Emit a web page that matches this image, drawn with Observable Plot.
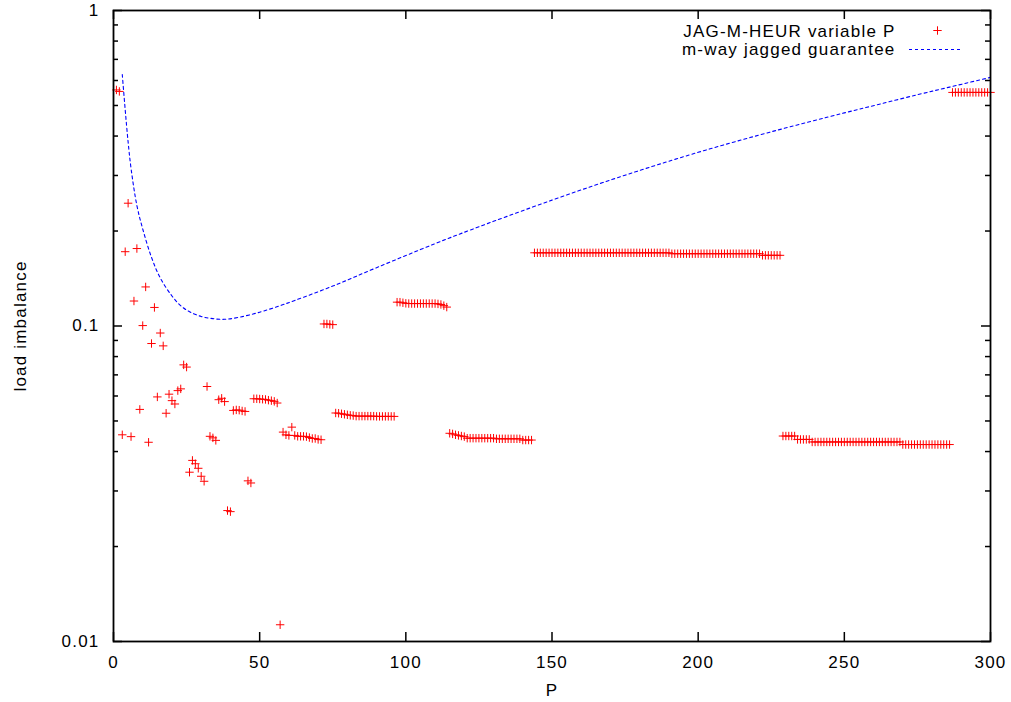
<!DOCTYPE html>
<html><head><meta charset="utf-8">
<script src="https://cdn.jsdelivr.net/npm/d3@7"></script>
<script src="https://cdn.jsdelivr.net/npm/@observablehq/plot@0.6"></script>
<style>
html,body{margin:0;padding:0;background:#fff;}
#chart svg{display:block;}
</style></head><body><div id="chart"></div>
<script>
// ---- tick labels ----
const xTicks = [0, 50, 100, 150, 200, 250, 300];
const yTicks = [0.01, 0.1, 1];
const yMinorTicks = [0.02,0.03,0.04,0.05,0.06,0.07,0.08,0.09,0.2,0.3,0.4,0.5,0.6,0.7,0.8,0.9];

// ---- series names ----
const seriesNames = ["JAG-M-HEUR variable P", "m-way jagged guarantee"];
const xTitle = "P";
const yTitle = "load imbalance";

// ---- JAG-M-HEUR variable P: values for P = 1..40 ----
const heurFirstValues = [0.560, 0.554, 0.0452, 0.172, 0.245, 0.0446, 0.120, 0.176, 0.0544, 0.1003,
  0.133, 0.0428, 0.088, 0.1145, 0.0596, 0.095, 0.0865, 0.0529, 0.0608, 0.058,
  0.0566, 0.0624, 0.0632, 0.0753, 0.0741, 0.0344, 0.0375, 0.0366, 0.0354, 0.0334,
  0.0322, 0.0643, 0.0447, 0.0442, 0.0434, 0.0584, 0.059, 0.0576, 0.026, 0.0258];

// ---- JAG-M-HEUR variable P: runs [first P, last P, value] for P = 41..300 ----
const heurRuns = [
  [41,41,0.0540],[42,42,0.0542],[43,43,0.0541],[44,44,0.0538],[45,45,0.0536],
  [46,46,0.0323],[47,47,0.0318],
  [48,49,0.0588],[50,50,0.0587],[51,51,0.0586],[52,52,0.0585],[53,53,0.0582],[54,54,0.058],[55,55,0.0577],[56,56,0.057],
  [57,57,0.0113],
  [58,58,0.0461],[59,59,0.0452],[60,60,0.045],[61,61,0.0478],[62,62,0.045],[63,65,0.0447],[66,66,0.0446],[67,67,0.0443],[68,69,0.044],[70,70,0.0437],[71,71,0.0436],
  [72,73,0.1015],[74,74,0.1012],[75,75,0.101],
  [76,76,0.053],[77,77,0.0529],[78,78,0.0527],[79,79,0.0525],[80,80,0.0523],[81,81,0.0521],[82,82,0.052],[83,89,0.0518],[90,96,0.0517],
  [97,98,0.119],[99,99,0.1185],[100,100,0.118],[101,110,0.1178],[111,111,0.1175],[112,112,0.117],[113,113,0.116],[114,114,0.1148],
  [115,115,0.0457],[116,116,0.0455],[117,117,0.0452],[118,118,0.045],[119,119,0.0448],[120,120,0.0446],[121,130,0.0441],[131,139,0.0439],[140,143,0.0435],
  [144,190,0.1706],[191,221,0.1695],[222,228,0.1675],
  [229,233,0.0448],[234,238,0.0437],[239,269,0.0429],[270,286,0.0421],
  [287,300,0.55]
];

// ---- m-way jagged guarantee ----
const guaranteeP = [3,4,5,6,8,10,13,16,20,23,26,30,34,38,43,50,57,62,75,90,110,122,150,175,200,225,250,262,275,286,300];
const guaranteeValue = [0.627,0.485,0.383,0.316,0.241,0.203,0.165,0.142,0.1245,0.116,0.111,0.1072,0.1055,0.105,0.1066,0.1106,0.116,0.1205,0.1338,0.1531,0.1824,0.2014,0.2506,0.3006,0.3552,0.4126,0.4736,0.5047,0.5408,0.5717,0.6138];

// ---- build tables ----
const heur = heurFirstValues.map((v, i) => ({P: i + 1, value: v}));
for (const [a, b, v] of heurRuns) for (let p = a; p <= b; ++p) heur.push({P: p, value: v});
const guarantee = guaranteeP.map((p, i) => ({P: p, value: guaranteeValue[i]}));

const W = 1011, H = 702, mL = 113, mR = 21, mT = 10, mB = 61;
const plotW = W - mL - mR, plotH = H - mT - mB;

const plusSymbol = {draw(ctx) { const r = 4.2; ctx.moveTo(-r, 0); ctx.lineTo(r, 0); ctx.moveTo(0, -r); ctx.lineTo(0, r); }};

const chart = Plot.plot({
  width: W, height: H,
  marginLeft: mL, marginRight: mR, marginTop: mT, marginBottom: mB,
  style: {fontFamily: "'Liberation Sans', Arial, sans-serif", fontSize: "17px", letterSpacing: "1.2px", background: "white", color: "black", overflow: "visible"},
  x: {domain: [0, 300], axis: null},
  y: {type: "log", domain: [0.01, 1], axis: null},
  marks: [
    // ticks (inward, mirrored)
    Plot.tickX(xTicks, {x: d => d, insetTop: plotH - 9, stroke: "black", strokeWidth: 1.5}),
    Plot.tickX(xTicks, {x: d => d, insetBottom: plotH - 9, stroke: "black", strokeWidth: 1.5}),
    Plot.tickY(yTicks, {y: d => d, insetRight: plotW - 9, stroke: "black", strokeWidth: 1.5}),
    Plot.tickY(yTicks, {y: d => d, insetLeft: plotW - 9, stroke: "black", strokeWidth: 1.5}),
    Plot.tickY(yMinorTicks, {y: d => d, insetRight: plotW - 5, stroke: "black", strokeWidth: 1.5}),
    Plot.tickY(yMinorTicks, {y: d => d, insetLeft: plotW - 5, stroke: "black", strokeWidth: 1.5}),
    // tick labels
    Plot.text(xTicks, {x: d => d, text: d => String(d), frameAnchor: "bottom", dy: 21, textAnchor: "middle", lineAnchor: "middle", fill: "black"}),
    Plot.text(yTicks, {y: d => d, text: d => String(d), frameAnchor: "left", dx: -14, textAnchor: "end", lineAnchor: "middle", fill: "black"}),
    // axis titles
    Plot.text([xTitle], {text: d => d, frameAnchor: "bottom", dy: 49, textAnchor: "middle", lineAnchor: "middle", fill: "black"}),
    Plot.text([yTitle], {text: d => d, frameAnchor: "left", dx: -93, rotate: -90, textAnchor: "middle", lineAnchor: "middle", fill: "black"}),
    // data
    Plot.line(guarantee, {x: "P", y: "value", stroke: "#0000ff", strokeWidth: 1.1, strokeDasharray: "3,3", curve: "catmull-rom"}),
    Plot.dot(heur, {x: "P", y: "value", symbol: plusSymbol, stroke: "#ff0000", fill: "none", strokeWidth: 1, r: 4}),
    // legend
    Plot.text([seriesNames[0]], {text: d => d, frameAnchor: "top-right", dx: -95, dy: 26.7, textAnchor: "end", lineAnchor: "bottom", fill: "black"}),
    Plot.text([seriesNames[1]], {text: d => d, frameAnchor: "top-right", dx: -95, dy: 44.5, textAnchor: "end", lineAnchor: "bottom", fill: "black"}),
    Plot.dot([seriesNames[0]], {frameAnchor: "top-right", dx: -53, dy: 20, symbol: plusSymbol, stroke: "#ff0000", fill: "none", strokeWidth: 1, r: 4}),
    Plot.frame({stroke: "black", strokeWidth: 1.8})
  ]
});

// legend sample for the dotted guarantee line
d3.select(chart).append("line")
  .attr("x1", W - mR - 81).attr("x2", W - mR - 28)
  .attr("y1", mT + 39.5).attr("y2", mT + 39.5)
  .attr("stroke", "#0000ff").attr("stroke-width", 1.1).attr("stroke-dasharray", "3,3");

document.getElementById("chart").appendChild(chart);
</script></body></html>
